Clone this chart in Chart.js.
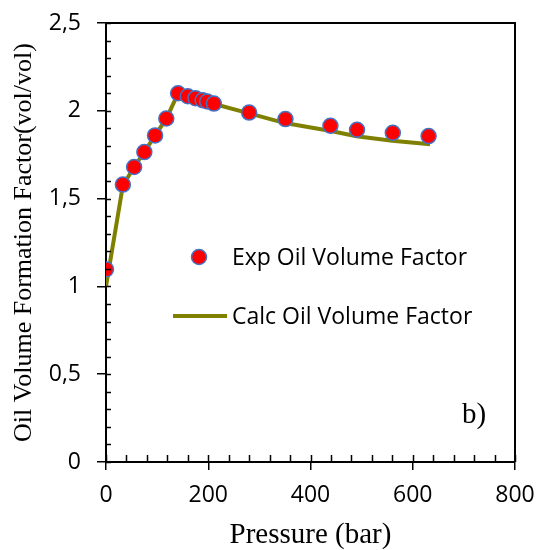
<!DOCTYPE html>
<html>
<head>
<meta charset="utf-8">
<script src="https://cdn.jsdelivr.net/npm/chart.js@4"></script>
<style>
  body { margin: 0; background: #fff; }
  #wrap { width: 540px; height: 550px; }
</style>
</head>
<body>
<div id="wrap"><canvas id="canvas" width="540" height="550"></canvas></div>
<script>
// measured data (pressure in bar, Bo in vol/vol)
const expPressure = [0, 33, 55, 75, 96, 118, 141, 160, 175, 189, 198, 211, 280, 351, 439, 491, 561, 631];
const expBo = [1.097, 1.58, 1.68, 1.765, 1.86, 1.956, 2.10, 2.083, 2.072, 2.06, 2.053, 2.041, 1.99, 1.953, 1.915, 1.892, 1.875, 1.856];

// calculated curve
const calcPressure = [0, 33, 55, 75, 96, 118, 138, 160, 210, 280, 350, 440, 490, 560, 634];
const calcBo = [1.0, 1.575, 1.68, 1.765, 1.86, 1.955, 2.08, 2.07, 2.04, 1.985, 1.93, 1.885, 1.855, 1.83, 1.81];

const xTicks = [0, 200, 400, 600, 800];
const yTicks = [0, 0.5, 1, 1.5, 2, 2.5];

const expLabel = "Exp Oil Volume Factor";
const calcLabel = "Calc Oil Volume Factor";

const olive = "#808000";
const sansFont = "'Open Sans', sans-serif";
const serifFont = "'Liberation Serif', 'Times New Roman', serif";

// inner ticks, minor ticks, frame, legend and panel letter
const extras = {
  id: "extras",
  afterDraw(chart) {
    const ctx = chart.ctx;
    const a = chart.chartArea;
    const xs = chart.scales.x, ys = chart.scales.y;
    ctx.save();
    ctx.strokeStyle = "#000";
    ctx.lineWidth = 1.5;
    ctx.beginPath();
    for (let v = 0; v <= 2.5001; v += 0.1) {
      const y = Math.round(ys.getPixelForValue(v)) + 0.5;
      ctx.moveTo(a.left, y);
      ctx.lineTo(a.left + 5, y);
    }
    for (let v = 0; v <= 800; v += 40) {
      const x = Math.round(xs.getPixelForValue(v)) + 0.5;
      ctx.moveTo(x, a.bottom);
      ctx.lineTo(x, a.bottom - 7);
    }
    ctx.stroke();

    // frame top + right
    ctx.lineWidth = 2;
    ctx.beginPath();
    ctx.moveTo(a.left, a.top);
    ctx.lineTo(a.right, a.top);
    ctx.lineTo(a.right, a.bottom);
    ctx.stroke();

    // legend
    ctx.beginPath();
    ctx.arc(199, 257, 7.5, 0, Math.PI * 2);
    ctx.fillStyle = "#ff0000";
    ctx.fill();
    ctx.lineWidth = 1.5;
    ctx.strokeStyle = "#4472c4";
    ctx.stroke();

    ctx.beginPath();
    ctx.moveTo(173, 316);
    ctx.lineTo(227, 316);
    ctx.lineWidth = 4;
    ctx.strokeStyle = olive;
    ctx.stroke();

    ctx.fillStyle = "#000";
    ctx.font = "23px " + sansFont;
    ctx.textBaseline = "middle";
    ctx.fillText(expLabel, 232, 258);
    ctx.fillText(calcLabel, 232, 317);

    ctx.font = "29px " + serifFont;
    ctx.textBaseline = "alphabetic";
    ctx.fillText("b)", 462, 423);
    ctx.restore();
  }
};

const chart = new Chart(document.getElementById("canvas").getContext("2d"), {
  type: "scatter",
  data: {
    datasets: [
      {
        label: calcLabel,
        data: calcPressure.map((p, i) => ({ x: p, y: calcBo[i] })),
        showLine: true,
        borderColor: olive,
        borderWidth: 4,
        pointRadius: 0,
        tension: 0,
        order: 2
      },
      {
        label: expLabel,
        data: expPressure.map((p, i) => ({ x: p, y: expBo[i] })),
        pointRadius: 7.5,
        pointBackgroundColor: "#ff0000",
        pointBorderColor: "#4472c4",
        pointBorderWidth: 1.5,
        order: 1
      }
    ]
  },
  options: {
    responsive: false,
    animation: false,
    layout: { padding: { top: 23, right: 25, left: 0, bottom: 0 } },
    plugins: { legend: { display: false }, tooltip: { enabled: false } },
    scales: {
      x: {
        type: "linear",
        min: 0,
        max: 800,
        afterBuildTicks: s => { s.ticks = xTicks.map(v => ({ value: v })); },
        afterFit: s => { s.height = 88; s.paddingLeft = 0; s.paddingRight = 0; },
        ticks: { color: "#000", font: { family: sansFont, size: 23 }, padding: 12, maxRotation: 0 },
        grid: { display: true, drawOnChartArea: false, tickLength: 8, color: "#000", lineWidth: 1.5 },
        border: { color: "#000", width: 2 },
        title: {
          display: true,
          text: "Pressure (bar)",
          color: "#000",
          font: { family: serifFont, size: 29, lineHeight: 1.0 },
          padding: 0
        }
      },
      y: {
        type: "linear",
        min: 0,
        max: 2.5,
        afterBuildTicks: s => { s.ticks = yTicks.map(v => ({ value: v })); },
        afterFit: s => { s.width = 106; s.paddingTop = 0; s.paddingBottom = 0; },
        ticks: {
          color: "#000",
          font: { family: sansFont, size: 23 },
          padding: 16,
          callback: v => String(v).replace(".", ",")
        },
        grid: { display: true, drawOnChartArea: false, tickLength: 9, color: "#000", lineWidth: 1.5 },
        border: { color: "#000", width: 2 },
        title: {
          display: true,
          text: "Oil Volume Formation Factor(vol/vol)",
          color: "#000",
          font: { family: serifFont, size: 26 },
          padding: { top: 9, bottom: 0 }
        }
      }
    }
  },
  plugins: [extras]
});
</script>
</body>
</html>
